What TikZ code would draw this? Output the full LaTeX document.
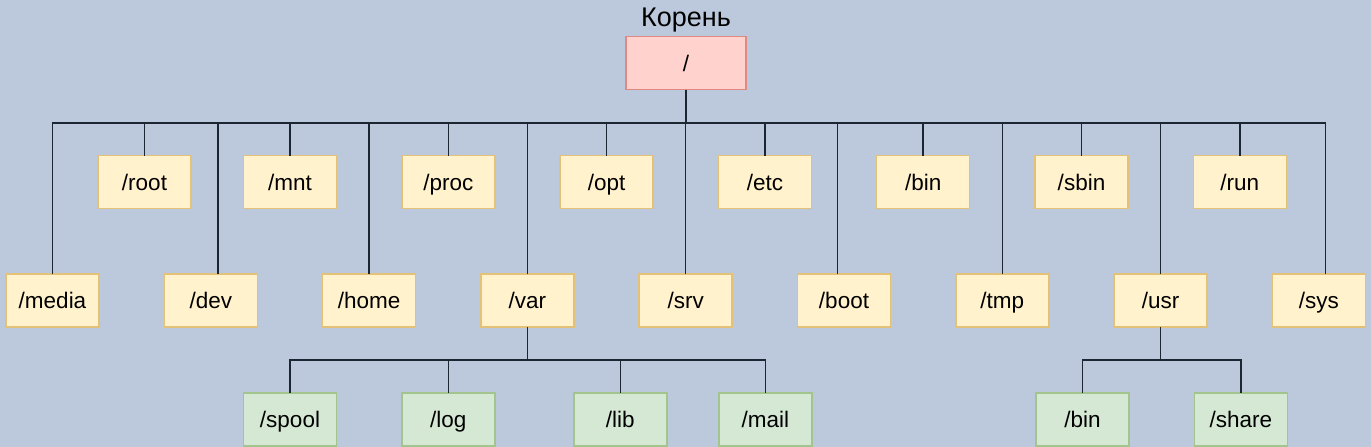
\documentclass[tikz,border=0pt]{standalone}
\usepackage{fontspec}
\setmainfont{Liberation Sans}
\usetikzlibrary{positioning}

\definecolor{bgblue}{HTML}{BCC9DC}
\definecolor{dirfill}{HTML}{FFF2CC}
\definecolor{dirline}{HTML}{E3C277}
\definecolor{subfill}{HTML}{D5E8D4}
\definecolor{subline}{HTML}{A3C48C}
\definecolor{rootfill}{HTML}{FFD2CE}
\definecolor{rootline}{HTML}{DE8A82}
\definecolor{linkcol}{HTML}{1C2633}

\begin{document}
\begin{tikzpicture}[x=1pt,y=1pt,
  dir/.style={draw=dirline,fill=dirfill,line width=1.5pt,outer sep=0pt,inner sep=0pt,
    minimum width=93pt,minimum height=53pt,text height=20pt,text depth=4pt,
    font=\fontsize{22.5}{26}\selectfont},
  sub/.style={dir,draw=subline,fill=subfill},
  link/.style={draw=linkcol,line width=1.5pt}]
  \fill[bgblue] (0,0) rectangle (1371,-447);
  \useasboundingbox (0,0) rectangle (1371,-447);

  \node[dir,draw=rootline,fill=rootfill,minimum width=120pt, name=fsroot] at (686,-63) {/};
  \node[font=\fontsize{27}{30}\selectfont, anchor=base, name=label] at (686,-27) {Корень};

  % upper row
  \node[dir, name=root] at (144.5,-182) {/root};
  \node[dir, name=mnt]  at (290,-182) {/mnt};
  \node[dir, name=proc, right=65.3pt of mnt]  {/proc};
  \node[dir, name=opt,  right=65.3pt of proc] {/opt};
  \node[dir, name=etc,  right=65.3pt of opt]  {/etc};
  \node[dir, name=bin,  right=65.3pt of etc]  {/bin};
  \node[dir, name=sbin, right=65.3pt of bin]  {/sbin};
  \node[dir, name=run,  right=65.3pt of sbin] {/run};

  % lower row
  \node[dir, name=media] at (52.5,-300.5) {/media};
  \node[dir, name=dev,  right=65.3pt of media] {/dev};
  \node[dir, name=home, right=65.3pt of dev]   {/home};
  \node[dir, name=var,  right=65.3pt of home]  {/var};
  \node[dir, name=srv,  right=65.3pt of var]   {/srv};
  \node[dir, name=boot, right=65.3pt of srv]   {/boot};
  \node[dir, name=tmp,  right=65.3pt of boot]  {/tmp};
  \node[dir, name=usr,  right=65.3pt of tmp]   {/usr};
  \node[dir, name=sys,  right=65.3pt of usr]   {/sys};

  % subdirectories
  \node[sub, name=spool] at (290,-419.5) {/spool};
  \node[sub, name=log,  right=65.3pt of spool] {/log};
  \node[sub, name=lib,  right=79pt of log]     {/lib};
  \node[sub, name=mail, right=52pt of lib]     {/mail};
  \node[sub, name=usrbin] at (1082.5,-419.5) {/bin};
  \node[sub, name=share, right=65.3pt of usrbin] {/share};

  \coordinate (bus) at (0,-123);
  \coordinate (varbus) at (0,-360);
  \coordinate (devdrop) at ([xshift=7pt]dev.north);
  \coordinate (bootdrop) at ([xshift=-6.5pt]boot.north);
  \coordinate (sysdrop) at ([xshift=6.5pt]sys.north);

  \draw[link] (fsroot.south) -- (fsroot.south |- bus);
  \draw[link] (media.north) |- (sysdrop |- bus) -- (sysdrop);
  \foreach \n in {root,mnt,proc,opt,etc,bin,sbin,run,home,var,srv,tmp,usr}
    \draw[link] (\n.north) -- (\n.north |- bus);
  \draw[link] (devdrop) -- (devdrop |- bus);
  \draw[link] (bootdrop) -- (bootdrop |- bus);

  \draw[link] (var.south) -- (var.south |- varbus);
  \draw[link] (spool.north) |- (mail.north |- varbus) -- (mail.north);
  \foreach \n in {log,lib}
    \draw[link] (\n.north) -- (\n.north |- varbus);

  \draw[link] (usr.south) -- (usr.south |- varbus);
  \draw[link] (usrbin.north) |- (share.north |- varbus) -- (share.north);
\end{tikzpicture}
\end{document}
